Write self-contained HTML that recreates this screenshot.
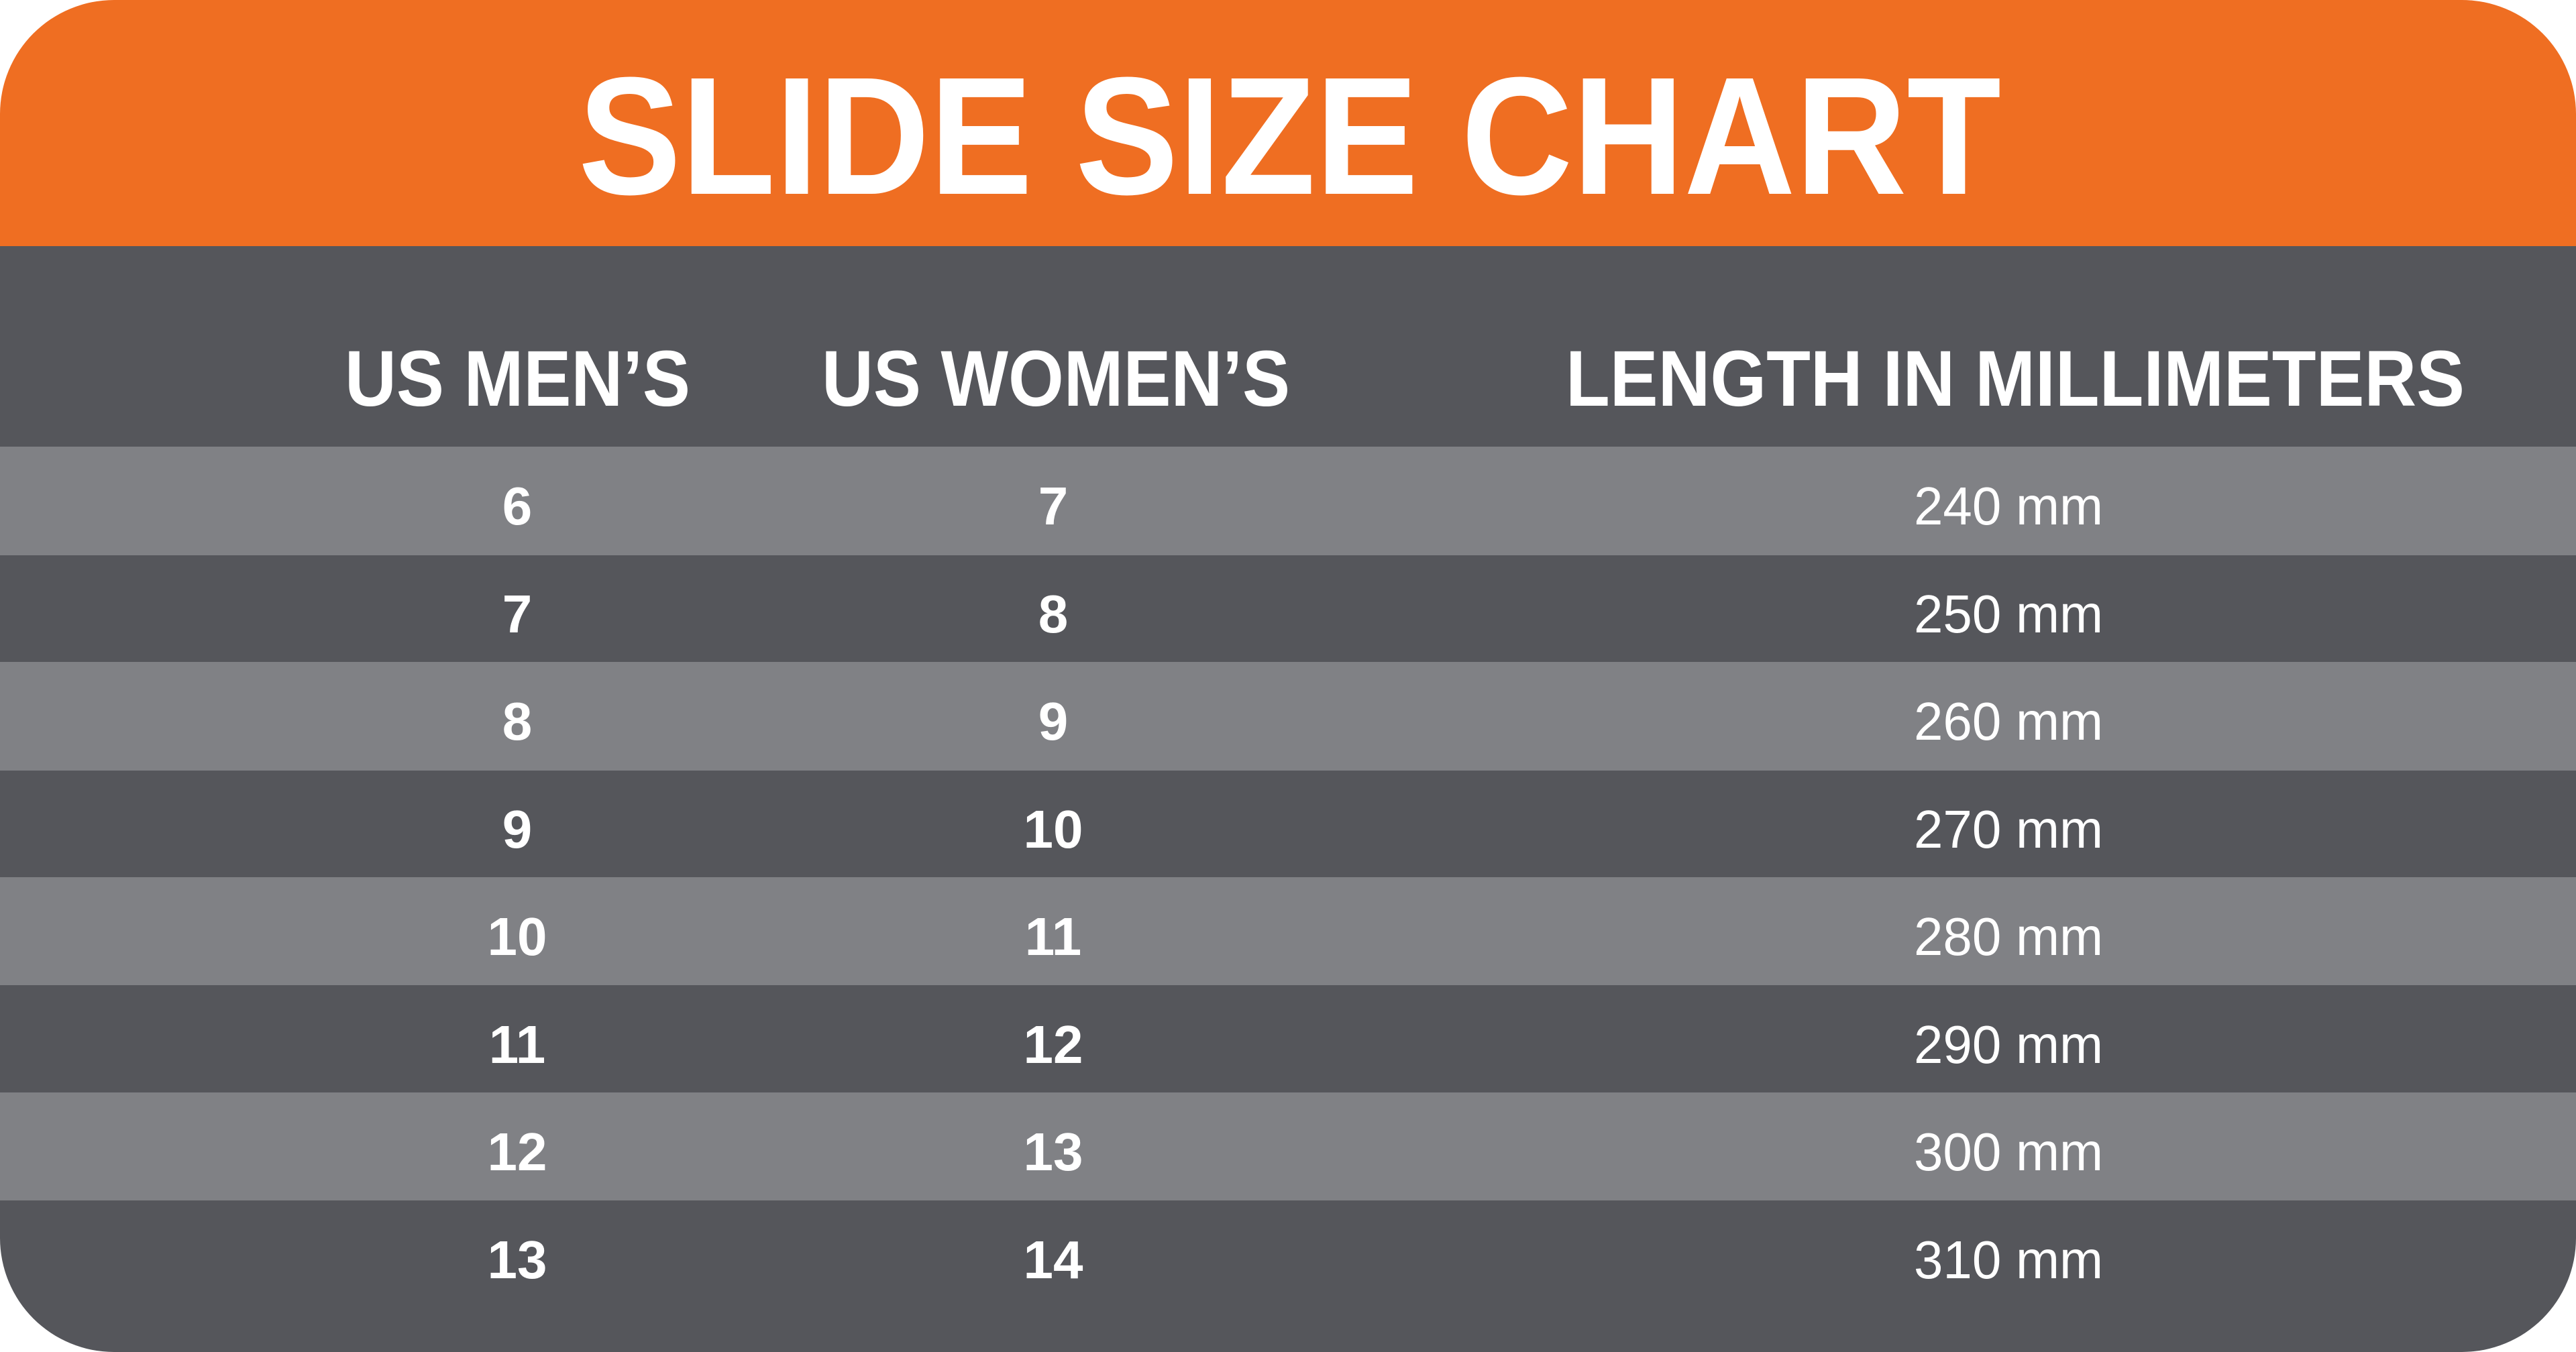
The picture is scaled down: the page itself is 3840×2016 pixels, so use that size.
<!DOCTYPE html>
<html><head><meta charset="utf-8"><style>
html,body{margin:0;padding:0;background:#fff;}
svg{display:block;}
text{font-family:"Liberation Sans",sans-serif;fill:#fff;}
</style></head><body>
<svg width="3840" height="2016" viewBox="0 0 3840 2016" xmlns="http://www.w3.org/2000/svg">
<defs><clipPath id="c"><rect x="0" y="0" width="3840" height="2016" rx="170" ry="170"/></clipPath></defs>
<g clip-path="url(#c)">
<rect x="0" y="0" width="3840" height="367" fill="#EF6E22"/>
<rect x="0" y="367" width="3840" height="299" fill="#55565B"/>
<rect x="0" y="666" width="3840" height="162" fill="#808185"/>
<rect x="0" y="828" width="3840" height="159" fill="#55565B"/>
<rect x="0" y="987" width="3840" height="162" fill="#808185"/>
<rect x="0" y="1149" width="3840" height="159" fill="#55565B"/>
<rect x="0" y="1308" width="3840" height="161" fill="#808185"/>
<rect x="0" y="1469" width="3840" height="160" fill="#55565B"/>
<rect x="0" y="1629" width="3840" height="161" fill="#808185"/>
<rect x="0" y="1790" width="3840" height="226" fill="#55565B"/>
</g>
<text x="862" y="289" font-size="250" font-weight="bold" textLength="2121" lengthAdjust="spacingAndGlyphs">SLIDE SIZE CHART</text>
<text x="514" y="605" font-size="118" font-weight="bold" textLength="515" lengthAdjust="spacingAndGlyphs">US MEN’S</text>
<text x="1225" y="605" font-size="118" font-weight="bold" textLength="698" lengthAdjust="spacingAndGlyphs">US WOMEN’S</text>
<text x="2334" y="605" font-size="118" font-weight="bold" textLength="1340" lengthAdjust="spacingAndGlyphs">LENGTH IN MILLIMETERS</text>
<g font-size="80" font-weight="bold" text-anchor="middle" transform="translate(0,7)">
<text x="771" y="775">6</text><text x="1570" y="775">7</text>
<text x="771" y="936">7</text><text x="1570" y="936">8</text>
<text x="771" y="1096">8</text><text x="1570" y="1096">9</text>
<text x="771" y="1257">9</text><text x="1570" y="1257">10</text>
<text x="771" y="1417">10</text><text x="1570" y="1417">11</text>
<text x="771" y="1578">11</text><text x="1570" y="1578">12</text>
<text x="771" y="1738">12</text><text x="1570" y="1738">13</text>
<text x="771" y="1899">13</text><text x="1570" y="1899">14</text>
</g>
<g font-size="80" transform="translate(0,7)">
<text x="2853" y="775" textLength="282" lengthAdjust="spacingAndGlyphs">240 mm</text>
<text x="2853" y="936" textLength="282" lengthAdjust="spacingAndGlyphs">250 mm</text>
<text x="2853" y="1096" textLength="282" lengthAdjust="spacingAndGlyphs">260 mm</text>
<text x="2853" y="1257" textLength="282" lengthAdjust="spacingAndGlyphs">270 mm</text>
<text x="2853" y="1417" textLength="282" lengthAdjust="spacingAndGlyphs">280 mm</text>
<text x="2853" y="1578" textLength="282" lengthAdjust="spacingAndGlyphs">290 mm</text>
<text x="2853" y="1738" textLength="282" lengthAdjust="spacingAndGlyphs">300 mm</text>
<text x="2853" y="1899" textLength="282" lengthAdjust="spacingAndGlyphs">310 mm</text>
</g>
</svg>
</body></html>
